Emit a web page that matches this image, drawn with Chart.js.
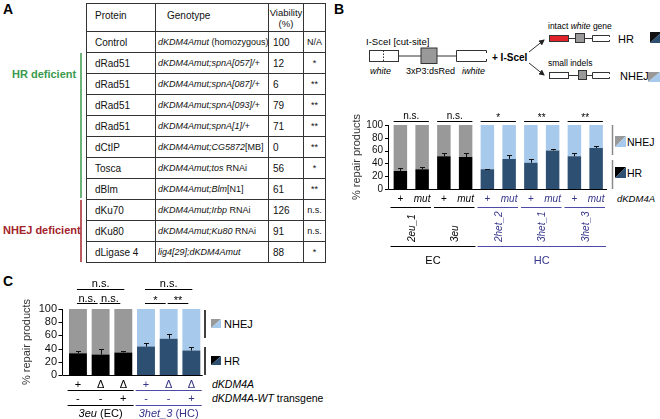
<!DOCTYPE html>
<html>
<head>
<meta charset="utf-8">
<script src="https://cdn.jsdelivr.net/npm/chart.js@4.4.1/dist/chart.umd.min.js"></script>
<style>
  body { margin: 0; width: 660px; height: 419px; position: relative; overflow: hidden; background: #fff;
         font-family: "Liberation Sans", Arial, sans-serif; color: #111; }
  canvas, svg { position: absolute; left: 0; top: 0; }
  #tbl { position: absolute; left: 86px; top: 3px; border-collapse: collapse; table-layout: fixed; width: 239px; font-size: 10px; }
  #tbl td, #tbl th { border: 1px solid #333; padding: 0; font-weight: normal; text-align: left; vertical-align: middle;
                     white-space: nowrap; overflow: hidden; }
  #tbl th { vertical-align: top; padding-top: 6px; }
  #tbl tbody tr { height: 21px; }
  #tbl thead tr { height: 28px; }
  #tbl .p { padding-left: 8px; }
  #tbl .g { padding-left: 2px; font-size: 9px; }
  #tbl th.g { padding-left: 11px; font-size: 10px; }
  #tbl .v { padding-left: 4px; }
  #tbl th.v { padding-left: 0; text-align: center; font-size: 9.5px; padding-top: 3px; line-height: 11px; }
  #tbl .s { text-align: center; font-size: 9px; }
</style>
</head>
<body>
<svg width="660" height="419" font-family="Liberation Sans, Arial, sans-serif">
  <defs>
    <marker id="arr" markerWidth="6" markerHeight="6" refX="5" refY="3" orient="auto" markerUnits="userSpaceOnUse">
      <path d="M0,0 L6,3 L0,6 z" fill="#222"/>
    </marker>
  </defs>
  <text x="3" y="13.5" font-size="14" font-weight="bold">A</text>
  <text x="334" y="13.5" font-size="14" font-weight="bold">B</text>
  <text x="3" y="286" font-size="14" font-weight="bold">C</text>

  <text x="12" y="78" font-size="11" font-weight="bold" fill="#3a9a4c">HR deficient</text>
  <line x1="81" y1="53" x2="81" y2="198" stroke="#3a9a4c" stroke-width="1.5"/>
  <text x="3" y="234" font-size="11" font-weight="bold" fill="#a3242b">NHEJ deficient</text>
  <line x1="81" y1="200" x2="81" y2="262" stroke="#a3242b" stroke-width="1.5"/>

  <!-- reporter diagram -->
  <g stroke="#333" stroke-width="1">
    <rect x="369.5" y="50.5" width="29" height="11" fill="#fff"/>
    <line x1="383.5" y1="50.5" x2="383.5" y2="61.5" stroke-dasharray="1.5,1.5"/>
    <line x1="398.5" y1="56" x2="421" y2="56"/>
    <rect x="421" y="48" width="16" height="15.5" fill="#999"/>
    <line x1="437" y1="56" x2="456.5" y2="56"/>
    <path d="M486.5,53 V50.5 H456.5 V61.5 H486.5 V59" fill="none"/>
    <line x1="529" y1="52" x2="544" y2="40" marker-end="url(#arr)"/>
    <line x1="529" y1="63" x2="544" y2="75" marker-end="url(#arr)"/>
    <rect x="549.5" y="35.5" width="19" height="6" fill="#e3232b"/>
    <line x1="568.5" y1="38.5" x2="575.5" y2="38.5"/>
    <rect x="575.5" y="33.5" width="9" height="9" fill="#999"/>
    <line x1="584.5" y1="38.5" x2="592.5" y2="38.5"/>
    <path d="M609.5,37 V35.5 H592.5 V41.5 H609.5 V40" fill="none"/>
    <rect x="549.5" y="72.5" width="19" height="6" fill="#fff"/>
    <line x1="568.5" y1="75.5" x2="578.5" y2="75.5"/>
    <rect x="578.5" y="70.5" width="8" height="9" fill="#999"/>
    <line x1="586.5" y1="75.5" x2="592.5" y2="75.5"/>
    <path d="M609.5,74 V72.5 H592.5 V78.5 H609.5 V77" fill="none"/>
  </g>
  <text x="366" y="45" font-size="9.5">I-SceI [cut-site]</text>
  <text x="370" y="74" font-size="9" font-style="italic">white</text>
  <text x="406" y="74" font-size="9">3xP3:dsRed</text>
  <text x="462" y="74" font-size="9" font-style="italic">iwhite</text>
  <text x="492" y="61" font-size="10" font-weight="bold">+ I-SceI</text>
  <text x="548" y="29" font-size="8.5">intact <tspan font-style="italic">white</tspan> gene</text>
  <text x="548" y="66" font-size="8.5">small indels</text>
  <text x="618" y="43" font-size="11">HR</text>
  <text x="620" y="80" font-size="11">NHEJ</text>
  <polygon points="650,32 662,32 650,43" fill="#111"/><polygon points="662,32 662,43 650,43" fill="#2d4f72"/>
  <polygon points="648,72 660,72 648,82" fill="#999"/><polygon points="660,72 660,82 648,82" fill="#a7c9ec"/>

  <!-- legend B -->
  <line x1="612.5" y1="125" x2="612.5" y2="155" stroke="#8a8a8a" stroke-width="1.5"/>
  <line x1="612.5" y1="160" x2="612.5" y2="189" stroke="#8a8a8a" stroke-width="1.5"/>
  <polygon points="615,136 626,136 615,147" fill="#999"/><polygon points="626,136 626,147 615,147" fill="#a7c9ec"/>
  <polygon points="615,167 626,167 615,178" fill="#000"/><polygon points="626,167 626,178 615,178" fill="#2d4f72"/>
  <text x="627" y="146" font-size="10.5">NHEJ</text>
  <text x="627" y="177" font-size="10.5">HR</text>
  <text x="617" y="202" font-size="9.5" font-style="italic">dKDM4A</text>

  <!-- legend C -->
  <line x1="205" y1="310" x2="205" y2="338" stroke="#000" stroke-width="1.5"/>
  <line x1="205" y1="347" x2="205" y2="375" stroke="#000" stroke-width="1.5"/>
  <polygon points="211,319 221,319 211,328" fill="#999"/><polygon points="221,319 221,328 211,328" fill="#a7c9ec"/>
  <polygon points="211,356 221,356 211,365" fill="#000"/><polygon points="221,356 221,365 211,365" fill="#2d4f72"/>
  <text x="224" y="328" font-size="11">NHEJ</text>
  <text x="224" y="365" font-size="11">HR</text>
  <text x="212" y="388" font-size="10.5" font-style="italic">dKDM4A</text>
  <text x="212" y="402" font-size="10.5"><tspan font-style="italic">dKDM4A-WT</tspan> transgene</text>
</svg>

<table id="tbl">
  <colgroup><col style="width:69px"><col style="width:113px"><col style="width:35px"><col style="width:22px"></colgroup>
  <thead><tr><th class="p">Protein</th><th class="g">Genotype</th><th class="v">Viability<br>(%)</th><th></th></tr></thead>
  <tbody id="tbody"></tbody>
</table>

<canvas id="chartB" width="660" height="419"></canvas>
<canvas id="chartC" width="660" height="419"></canvas>

<script>
// table A
const proteins = ['Control', 'dRad51', 'dRad51', 'dRad51', 'dRad51', 'dCtIP', 'Tosca', 'dBlm', 'dKu70', 'dKu80', 'dLigase 4'];
const genotypes = [
  '<i>dKDM4Amut</i> (homozygous)', '<i>dKDM4Amut;spnA[057]/+</i>', '<i>dKDM4Amut;spnA[087]/+</i>',
  '<i>dKDM4Amut;spnA[093]/+</i>', '<i>dKDM4Amut;spnA[1]/+</i>', '<i>dKDM4Amut;CG5872</i>[MB]',
  '<i>dKDM4Amut;tos</i> RNAi', '<i>dKDM4Amut;Blm</i>[N1]', '<i>dKDM4Amut;Irbp</i> RNAi',
  '<i>dKDM4Amut;Ku80</i> RNAi', '<i>lig4[29];dKDM4Amut</i>'
];
const viability = [100, 12, 6, 79, 71, 0, 56, 61, 126, 91, 88];
const viabSig = ['N/A', '*', '**', '**', '**', '**', '*', '**', 'n.s.', 'n.s.', '*'];

// panel B
const genoB = ['+', 'mut', '+', 'mut', '+', 'mut', '+', 'mut', '+', 'mut'];
const chromB = ['EC', 'EC', 'EC', 'EC', 'HC', 'HC', 'HC', 'HC', 'HC', 'HC'];
const strainB = ['2eu_1', '3eu', '2het_2', '3het_1', '3het_3'];
const hrB = [28, 31, 51, 50, 31, 47, 41, 60, 51, 64];
const nhejB = [72, 69, 49, 50, 69, 53, 59, 40, 49, 36];
const errB = [5, 4, 6, 7, 1, 6, 6, 2, 5, 3];
const sigB = ['n.s.', 'n.s.', '*', '**', '**'];

// panel C
const genoC = ['+', 'Δ', 'Δ', '+', 'Δ', 'Δ'];
const transC = ['-', '-', '+', '-', '-', '+'];
const chromC = ['EC', 'EC', 'EC', 'HC', 'HC', 'HC'];
const strainC = ['3eu', '3het_3'];
const hrC = [33, 31, 34, 43, 55, 37];
const nhejC = [67, 69, 66, 57, 45, 63];
const errC = [4, 8, 3, 6, 7, 5.5];
const sigTopC = ['n.s.', 'n.s.'];
const sigPairC = ['n.s.', 'n.s.', '*', '**'];

const yTicks = [0, 20, 40, 60, 80, 100];

const hrCol = { EC: '#000000', HC: '#2d4f72' };
const nhejCol = { EC: '#999999', HC: '#a7c9ec' };
const hcText = '#35358a';
const hcLine = '#4b4ba6';
const FONT = '"Liberation Sans", Arial, sans-serif';

const tb = document.getElementById('tbody');
proteins.forEach((p, i) => {
  const tr = document.createElement('tr');
  tr.innerHTML = '<td class="p">' + p + '</td><td class="g">' + genotypes[i] + '</td><td class="v">' +
    viability[i] + '</td><td class="s">' + viabSig[i] + '</td>';
  tb.appendChild(tr);
});

Chart.defaults.font.family = FONT;
Chart.defaults.color = '#111';

function seg(ctx, x1, y1, x2, y2, col, w) {
  ctx.beginPath();
  ctx.strokeStyle = col || '#000';
  ctx.lineWidth = w || 1;
  ctx.moveTo(x1, y1);
  ctx.lineTo(x2, y2);
  ctx.stroke();
}

function txt(ctx, s, x, y, size, col, style, align) {
  ctx.font = (style || '') + ' ' + size + 'px ' + FONT;
  ctx.fillStyle = col || '#000';
  ctx.textAlign = align || 'center';
  ctx.textBaseline = 'alphabetic';
  ctx.fillText(s, x, y);
}

// centred run of mixed italic / upright text
function parts(ctx, list, cx, y, size, col) {
  let w = 0;
  list.forEach(p => { ctx.font = p[1] + ' ' + size + 'px ' + FONT; w += ctx.measureText(p[0]).width; });
  let x = cx - w / 2;
  list.forEach(p => {
    txt(ctx, p[0], x, y, size, col, p[1], 'left');
    ctx.font = p[1] + ' ' + size + 'px ' + FONT;
    x += ctx.measureText(p[0]).width;
  });
}

function groupsOf(arr) {
  const out = [];
  arr.forEach((g, i) => {
    if (!out.length || out[out.length - 1].g !== g) out.push({ g: g, a: i, b: i });
    else out[out.length - 1].b = i;
  });
  return out;
}

function axisAndErrors(ctx, x, y, a, gap, tl, hr, err) {
  const ax = Math.round(a.left - gap) + 0.5;
  const y0 = y.getPixelForValue(0), y1 = y.getPixelForValue(100);
  seg(ctx, ax, y1, ax, y0);
  y.ticks.forEach(t => {
    const py = Math.round(y.getPixelForValue(t.value)) + 0.5;
    seg(ctx, ax - tl, py, ax, py);
  });
  seg(ctx, ax, Math.round(y0) + 0.5, a.right, Math.round(y0) + 0.5);
  hr.forEach((v, i) => {
    const px = Math.round(x.getPixelForValue(i)) + 0.5;
    const pt = Math.round(y.getPixelForValue(v + err[i])) + 0.5;
    seg(ctx, px, y.getPixelForValue(v), px, pt, '#111');
    seg(ctx, px - 2.5, pt, px + 2.5, pt, '#111');
  });
}

function barChart(id, labels, hr, nhej, chrom, pct, pad, yWidth, tickPad, tickSize, plugin) {
  return new Chart(document.getElementById(id), {
    type: 'bar',
    data: {
      labels: labels,
      datasets: [
        { label: 'HR', data: hr, backgroundColor: chrom.map(g => hrCol[g]), borderWidth: 0,
          barPercentage: pct, categoryPercentage: 1 },
        { label: 'NHEJ', data: nhej, backgroundColor: chrom.map(g => nhejCol[g]), borderWidth: 0,
          barPercentage: pct, categoryPercentage: 1 },
      ],
    },
    options: {
      responsive: false,
      animation: false,
      layout: { padding: pad },
      plugins: { legend: { display: false }, tooltip: { enabled: false } },
      scales: {
        x: { stacked: true, display: false },
        y: {
          stacked: true, min: 0, max: 100,
          grid: { display: false, drawTicks: false },
          border: { display: false },
          afterBuildTicks: s => { s.ticks = yTicks.map(v => ({ value: v })); },
          ticks: { autoSkip: false, padding: tickPad, color: '#111', font: { size: tickSize } },
          title: { display: true, text: '% repair products', color: '#333', font: { size: 11 }, padding: { top: 4, bottom: 0 } },
          afterFit: s => { s.width = yWidth; },
        },
      },
    },
    plugins: [plugin],
  });
}

const notesB = {
  id: 'notesB',
  afterDatasetsDraw(chart) {
    const ctx = chart.ctx, x = chart.scales.x, y = chart.scales.y, a = chart.chartArea;
    const pitch = x.getPixelForValue(1) - x.getPixelForValue(0);
    const hw = pitch * 0.62 / 2;
    ctx.save();
    axisAndErrors(ctx, x, y, a, 2, 3.5, hrB, errB);
    strainB.forEach((s, k) => {
      const i = 2 * k, c1 = x.getPixelForValue(i), c2 = x.getPixelForValue(i + 1);
      const hc = chromB[i] === 'HC';
      const tc = hc ? hcText : '#000', lc = hc ? hcLine : '#000';
      seg(ctx, c1 - hw, 121.5, c2 + hw, 121.5);
      txt(ctx, sigB[k], (c1 + c2) / 2, sigB[k][0] === '*' ? 121 : 119, 10);
      txt(ctx, genoB[i], c1, 202, 10, tc);
      txt(ctx, genoB[i + 1], c2, 202, 10, tc, 'italic');
      seg(ctx, c1 - pitch / 2 + 1, 207.5, c2 + pitch / 2 - 2, 207.5, lc);
      ctx.save();
      ctx.translate((c1 + c2) / 2 + 3.5, 242);
      ctx.rotate(-Math.PI / 2);
      txt(ctx, s, 0, 0, 10, tc, 'italic', 'left');
      ctx.restore();
    });
    groupsOf(chromB).forEach(gr => {
      const col = gr.g === 'HC' ? hcLine : '#000';
      const l = x.getPixelForValue(gr.a) - pitch / 2 + 1, r = x.getPixelForValue(gr.b) + pitch / 2 - 1;
      seg(ctx, l, 246.5, r, 246.5, col);
      txt(ctx, gr.g, (l + r) / 2, 264, 11, gr.g === 'HC' ? hcText : '#000');
    });
    ctx.restore();
  },
};

const notesC = {
  id: 'notesC',
  afterDatasetsDraw(chart) {
    const ctx = chart.ctx, x = chart.scales.x, y = chart.scales.y, a = chart.chartArea;
    const pitch = x.getPixelForValue(1) - x.getPixelForValue(0);
    ctx.save();
    axisAndErrors(ctx, x, y, a, 4.5, 4, hrC, errC);
    genoC.forEach((g, i) => {
      const c = x.getPixelForValue(i);
      const tc = chromC[i] === 'HC' ? hcText : '#000';
      txt(ctx, g, c, 387.5, 11, tc);
      txt(ctx, transC[i], c, 401.5, 11, tc);
    });
    groupsOf(chromC).forEach((gr, k) => {
      const hc = gr.g === 'HC';
      const col = hc ? hcLine : '#000', tc = hc ? hcText : '#000';
      const l = x.getPixelForValue(gr.a) - pitch / 2 + 1, r = x.getPixelForValue(gr.b) + pitch / 2 - 1;
      seg(ctx, l, 390.5, r, 390.5, col);
      seg(ctx, l, 405.5, r, 405.5, col);
      parts(ctx, [[strainC[k], 'italic'], [' (' + gr.g + ')', '']], (l + r) / 2, 417, 11, tc);
      const c1 = x.getPixelForValue(gr.a), c2 = x.getPixelForValue(gr.b);
      seg(ctx, c1 - 1, 289.5, c2 + 1, 289.5);
      txt(ctx, sigTopC[k], (c1 + c2) / 2, 286.5, 11);
      for (let j = 0; j < 2; j++) {
        const p1 = x.getPixelForValue(gr.a + j), p2 = x.getPixelForValue(gr.a + j + 1);
        const s = sigPairC[k * 2 + j];
        seg(ctx, p1 - 1, 303.5, p2 - 3, 303.5);
        txt(ctx, s, (p1 + p2) / 2 - 2, s[0] === '*' ? 304 : 301.5, 11);
      }
    });
    ctx.restore();
  },
};

barChart('chartB', genoB.map((g, i) => chromB[i] + ' ' + g), hrB, nhejB, chromB, 0.62,
  { left: 345.9, top: 125, right: 53, bottom: 230 }, 43.6, 6.5, 10, notesB);
barChart('chartC', genoC.map((g, i) => chromC[i] + ' ' + g), hrC, nhejC, chromC, 0.79,
  { left: 16.4, top: 309, right: 457.3, bottom: 44 }, 50.2, 9.6, 11, notesC);
</script>
</body>
</html>
